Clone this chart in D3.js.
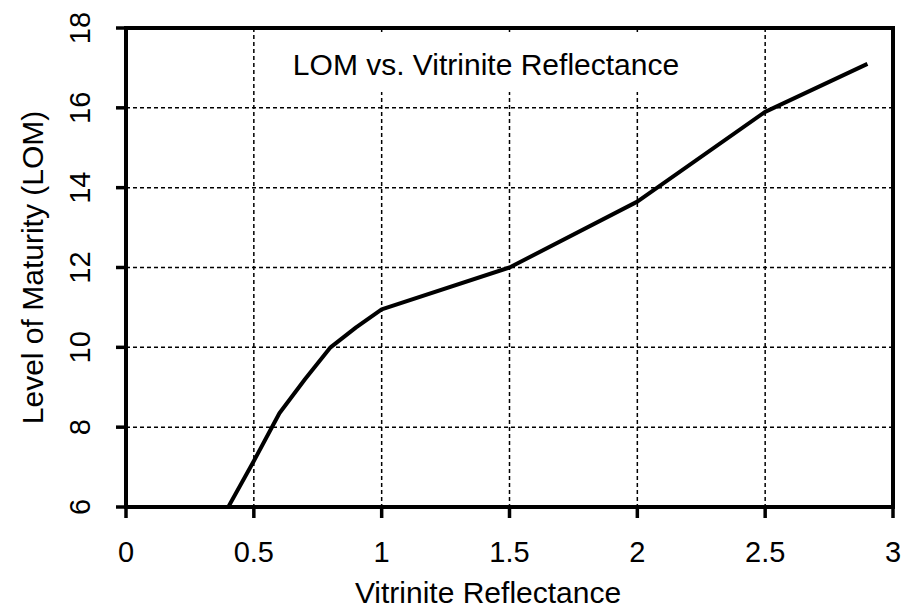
<!DOCTYPE html>
<html>
<head>
<meta charset="utf-8">
<script src="https://cdn.jsdelivr.net/npm/d3@7"></script>
<style>
  body { margin: 0; background: #fff; }
  text { font-family: "Liberation Sans", Arial, sans-serif; fill: #000; }
</style>
</head>
<body>
<svg id="chart" width="909" height="609"></svg>
<script>
// vitrinite reflectance (%Ro) vs level of maturity
var vr  = [0.4, 0.5, 0.6, 0.7, 0.8, 0.9, 1.0, 1.5, 2.0, 2.5, 2.9];
var lom = [6.0, 7.15, 8.35, 9.2, 10.0, 10.5, 10.95, 12.0, 13.65, 15.9, 17.1];

var xTicks = [0, 0.5, 1, 1.5, 2, 2.5, 3];
var yTicks = [6, 8, 10, 12, 14, 16, 18];

var svg = d3.select('#chart');

// plot box (note: "top" is a reserved window prop, so use plot_*)
var plot_left = 126, plot_right = 893, plot_top = 28, plot_bottom = 507;

var x = d3.scaleLinear().domain([0, 3]).range([plot_left, plot_right]);
var y = d3.scaleLinear().domain([6, 18]).range([plot_bottom, plot_top]);

// grid lines (dashed)
svg.append('g').selectAll('line')
  .data(xTicks.slice(1, -1))
  .enter().append('line')
  .attr('x1', function(d){ return x(d); })
  .attr('x2', function(d){ return x(d); })
  .attr('y1', plot_top).attr('y2', plot_bottom)
  .attr('stroke', '#000').attr('stroke-width', 1.5)
  .attr('stroke-dasharray', '4,3');

svg.append('g').selectAll('line')
  .data(yTicks.slice(1, -1))
  .enter().append('line')
  .attr('y1', function(d){ return y(d); })
  .attr('y2', function(d){ return y(d); })
  .attr('x1', plot_left).attr('x2', plot_right)
  .attr('stroke', '#000').attr('stroke-width', 1.5)
  .attr('stroke-dasharray', '4,3');

// title box covers the grid behind it
svg.append('rect')
  .attr('x', 272).attr('y', 34)
  .attr('width', 430).attr('height', 58)
  .attr('fill', '#fff');

svg.append('text')
  .attr('x', 486).attr('y', 75)
  .attr('text-anchor', 'middle')
  .style('font-size', '30px')
  .text('LOM vs. Vitrinite Reflectance');

// curve
var line = d3.line()
  .x(function(d){ return x(d[0]); })
  .y(function(d){ return y(d[1]); });

svg.append('path')
  .datum(d3.zip(vr, lom))
  .attr('d', line)
  .attr('fill', 'none')
  .attr('stroke', '#000')
  .attr('stroke-width', 4)
  .attr('stroke-linejoin', 'round');

// frame
svg.append('rect')
  .attr('x', plot_left).attr('y', plot_top)
  .attr('width', plot_right - plot_left).attr('height', plot_bottom - plot_top)
  .attr('fill', 'none')
  .attr('stroke', '#000')
  .attr('stroke-width', 4);

// x axis ticks + labels
var xAxis = svg.append('g');
xAxis.selectAll('line')
  .data(xTicks)
  .enter().append('line')
  .attr('x1', function(d){ return x(d); })
  .attr('x2', function(d){ return x(d); })
  .attr('y1', plot_bottom).attr('y2', plot_bottom + 11)
  .attr('stroke', '#000').attr('stroke-width', 3.5);

xAxis.selectAll('text')
  .data(xTicks)
  .enter().append('text')
  .attr('x', function(d){ return x(d); })
  .attr('y', 562)
  .attr('text-anchor', 'middle')
  .style('font-size', '29px')
  .text(function(d){ return d; });

// y axis ticks + labels (rotated)
var yAxis = svg.append('g');
yAxis.selectAll('line')
  .data(yTicks)
  .enter().append('line')
  .attr('y1', function(d){ return y(d); })
  .attr('y2', function(d){ return y(d); })
  .attr('x1', plot_left - 10).attr('x2', plot_left)
  .attr('stroke', '#000').attr('stroke-width', 3.5);

yAxis.selectAll('text')
  .data(yTicks)
  .enter().append('text')
  .attr('transform', function(d){ return 'translate(90,' + y(d) + ') rotate(-90)'; })
  .attr('text-anchor', 'middle')
  .style('font-size', '29px')
  .text(function(d){ return d; });

// axis titles
svg.append('text')
  .attr('x', 488).attr('y', 603)
  .attr('text-anchor', 'middle')
  .style('font-size', '30px')
  .text('Vitrinite Reflectance');

svg.append('text')
  .attr('transform', 'translate(43,' + (plot_top + plot_bottom) / 2 + ') rotate(-90)')
  .attr('text-anchor', 'middle')
  .style('font-size', '30px')
  .text('Level of Maturity (LOM)');
</script>
</body>
</html>
